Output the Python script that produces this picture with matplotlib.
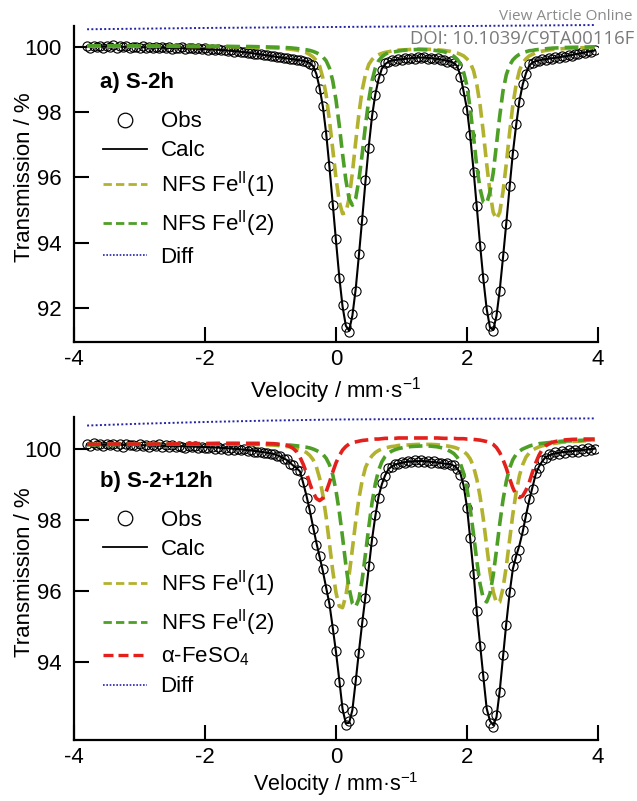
import matplotlib
matplotlib.use("Agg")
import matplotlib.pyplot as plt
from matplotlib.lines import Line2D

plt.rcParams['font.family'] = ['Liberation Sans', 'DejaVu Sans']
plt.rcParams['mathtext.fontset'] = 'custom'
plt.rcParams['mathtext.rm'] = 'Liberation Sans'
plt.rcParams['mathtext.it'] = 'Liberation Sans:italic'
plt.rcParams['mathtext.bf'] = 'Liberation Sans:bold'

# ---- data ----
# velocity channels of the measured points (mm/s), shared by both spectra
obs_velocity = [
    -3.80, -3.75, -3.70, -3.65, -3.60, -3.55, -3.50, -3.45, -3.40, -3.35,
    -3.30, -3.25, -3.20, -3.15, -3.10, -3.05, -3.00, -2.95, -2.90, -2.85,
    -2.80, -2.75, -2.70, -2.65, -2.60, -2.55, -2.50, -2.45, -2.40, -2.35,
    -2.30, -2.25, -2.20, -2.15, -2.10, -2.05, -2.00, -1.95, -1.90, -1.85,
    -1.80, -1.75, -1.70, -1.65, -1.60, -1.55, -1.50, -1.45, -1.40, -1.35,
    -1.30, -1.25, -1.20, -1.15, -1.10, -1.05, -1.00, -0.95, -0.90, -0.85,
    -0.80, -0.75, -0.70, -0.65, -0.60, -0.55, -0.50, -0.45, -0.40, -0.35,
    -0.30, -0.25, -0.20, -0.15, -0.10, -0.05, 0.00, 0.05, 0.10, 0.15,
    0.20, 0.25, 0.30, 0.35, 0.40, 0.45, 0.50, 0.55, 0.60, 0.65,
    0.70, 0.75, 0.80, 0.85, 0.90, 0.95, 1.00, 1.05, 1.10, 1.15,
    1.20, 1.25, 1.30, 1.35, 1.40, 1.45, 1.50, 1.55, 1.60, 1.65,
    1.70, 1.75, 1.80, 1.85, 1.90, 1.95, 2.00, 2.05, 2.10, 2.15,
    2.20, 2.25, 2.30, 2.35, 2.40, 2.45, 2.50, 2.55, 2.60, 2.65,
    2.70, 2.75, 2.80, 2.85, 2.90, 2.95, 3.00, 3.05, 3.10, 3.15,
    3.20, 3.25, 3.30, 3.35, 3.40, 3.45, 3.50, 3.55, 3.60, 3.65,
    3.70, 3.75, 3.80, 3.85, 3.90, 3.95]

obs_a = [
    100.04, 99.99, 100.05, 100.01, 100.03, 99.98, 100.04, 100.02, 100.06, 99.99,
    100.03, 100.00, 100.04, 99.98, 100.02, 100.01, 99.97, 100.03, 99.99, 100.01,
    99.96, 100.02, 99.98, 100.00, 99.97, 100.01, 99.95, 99.99, 99.97, 100.00,
    99.94, 99.98, 99.96, 99.93, 99.97, 99.94, 99.96, 99.92, 99.95, 99.91,
    99.93, 99.90, 99.91, 99.87, 99.90, 99.86, 99.87, 99.84, 99.86, 99.81,
    99.83, 99.80, 99.78, 99.79, 99.75, 99.76, 99.72, 99.73, 99.69, 99.70,
    99.66, 99.67, 99.63, 99.64, 99.60, 99.61, 99.57, 99.55, 99.49, 99.44,
    99.20, 98.72, 98.20, 97.31, 96.35, 95.16, 94.10, 92.92, 92.08, 91.40,
    91.26, 91.80, 92.52, 93.66, 94.70, 95.92, 96.90, 97.92, 98.52, 99.05,
    99.31, 99.50, 99.53, 99.61, 99.58, 99.64, 99.61, 99.66, 99.63, 99.68,
    99.65, 99.70, 99.66, 99.69, 99.65, 99.68, 99.63, 99.66, 99.60, 99.62,
    99.56, 99.58, 99.51, 99.46, 99.09, 98.64, 98.06, 97.29, 96.18, 95.12,
    93.89, 92.91, 91.93, 91.44, 91.28, 91.79, 92.51, 93.59, 94.56, 95.74,
    96.71, 97.64, 98.31, 98.88, 99.17, 99.47, 99.51, 99.59, 99.58, 99.64,
    99.61, 99.67, 99.64, 99.70, 99.67, 99.73, 99.70, 99.76, 99.74, 99.80,
    99.78, 99.84, 99.82, 99.88, 99.86, 99.91]

obs_b = [
    100.14, 100.08, 100.15, 100.10, 100.13, 100.07, 100.12, 100.09, 100.14, 100.08,
    100.12, 100.06, 100.13, 100.09, 100.11, 100.07, 100.12, 100.08, 100.10, 100.05,
    100.11, 100.07, 100.13, 100.06, 100.09, 100.05, 100.10, 100.04, 100.08, 100.06,
    100.03, 100.08, 100.04, 100.07, 100.02, 100.06, 100.03, 100.01, 100.05, 99.99,
    100.04, 100.00, 100.02, 99.97, 100.01, 99.96, 99.99, 99.95, 99.98, 99.93,
    99.95, 99.92, 99.90, 99.92, 99.87, 99.89, 99.84, 99.85, 99.79, 99.79,
    99.72, 99.70, 99.57, 99.54, 99.40, 99.38, 99.06, 98.62, 98.30, 97.74,
    97.30, 96.98, 96.62, 96.05, 95.67, 94.93, 94.32, 93.45, 92.72, 92.24,
    92.34, 92.62, 93.49, 94.26, 95.14, 95.81, 96.69, 97.41, 98.14, 98.61,
    99.03, 99.22, 99.45, 99.48, 99.58, 99.56, 99.63, 99.60, 99.66, 99.62,
    99.68, 99.63, 99.67, 99.62, 99.66, 99.61, 99.64, 99.59, 99.61, 99.56,
    99.59, 99.54, 99.55, 99.44, 99.27, 98.98, 98.32, 97.49, 96.48, 95.44,
    94.45, 93.62, 92.66, 92.30, 92.18, 92.50, 93.16, 94.19, 95.05, 95.97,
    96.70, 96.92, 97.15, 97.70, 98.08, 98.59, 98.88, 99.32, 99.47, 99.68,
    99.73, 99.84, 99.82, 99.90, 99.85, 99.93, 99.88, 99.95, 99.90, 99.97,
    99.92, 99.99, 99.93, 100.01, 99.95, 99.98]

# fitted curves, panel a
fit_velocity_a = [
    -3.8, -3.4, -3.0, -2.6, -2.2, -1.8, -1.5, -1.3, -1.1, -0.9, -0.7, -0.6, -0.5,
    -0.45, -0.4, -0.35, -0.3, -0.25, -0.2, -0.15, -0.1, -0.05, 0.0, 0.05, 0.1, 0.15,
    0.2, 0.25, 0.3, 0.35, 0.4, 0.45, 0.5, 0.55, 0.6, 0.65, 0.7, 0.75, 0.8, 0.85,
    0.95, 1.05, 1.15, 1.25, 1.35, 1.45, 1.55, 1.65,
    1.75, 1.8, 1.85, 1.9, 1.95, 2.0, 2.05, 2.1, 2.15, 2.2, 2.25, 2.3, 2.35, 2.4,
    2.45, 2.5, 2.55, 2.6, 2.65, 2.7, 2.75, 2.8, 2.85, 2.9, 2.95, 3.0, 3.05,
    3.15, 3.3, 3.5, 3.7, 3.95]
calc_a = [
    100.02, 100.02, 100.00, 99.98, 99.96, 99.92, 99.87, 99.82, 99.76, 99.70, 99.64, 99.61, 99.58,
    99.56, 99.51, 99.42, 99.18, 98.75, 98.17, 97.35, 96.32, 95.20, 94.05, 92.95, 92.04, 91.45,
    91.30, 91.76, 92.56, 93.62, 94.73, 95.88, 96.95, 97.88, 98.55, 99.02, 99.34, 99.48, 99.55, 99.59,
    99.62, 99.64, 99.66, 99.68, 99.68, 99.66, 99.64, 99.60,
    99.56, 99.51, 99.42, 99.12, 98.62, 98.10, 97.25, 96.22, 95.08, 93.93, 92.87, 91.97, 91.40, 91.32,
    91.75, 92.55, 93.55, 94.60, 95.70, 96.75, 97.60, 98.35, 98.85, 99.20, 99.43, 99.53, 99.57,
    99.62, 99.66, 99.72, 99.80, 99.90]
nfs1_a = [
    100.03, 100.03, 100.03, 100.03, 100.02, 100.02, 100.01, 100.00, 99.99, 99.97, 99.94, 99.91, 99.86,
    99.83, 99.77, 99.70, 99.59, 99.42, 99.05, 98.53, 97.75, 96.87, 95.98, 95.26, 94.89, 94.92,
    95.36, 96.14, 97.08, 97.96, 98.69, 99.16, 99.47, 99.62, 99.72, 99.77, 99.81, 99.84, 99.86, 99.88,
    99.91, 99.92, 99.93, 99.94, 99.94, 99.93, 99.92, 99.90,
    99.87, 99.84, 99.82, 99.78, 99.73, 99.64, 99.52, 99.28, 98.85, 98.22, 97.37, 96.42, 95.57, 94.93,
    94.72, 94.93, 95.57, 96.42, 97.37, 98.22, 98.85, 99.28, 99.52, 99.64, 99.73, 99.78, 99.83,
    99.88, 99.93, 99.96, 99.98, 99.99]
nfs2_a = [
    100.04, 100.04, 100.04, 100.03, 100.03, 100.03, 100.02, 100.02, 100.01, 100.00, 99.98, 99.96, 99.93,
    99.92, 99.90, 99.87, 99.83, 99.78, 99.70, 99.58, 99.36, 98.97, 98.38, 97.60, 96.72, 95.93,
    95.35, 95.15, 95.35, 95.93, 96.72, 97.60, 98.38, 98.97, 99.36, 99.58, 99.70, 99.78, 99.83, 99.84,
    99.88, 99.91, 99.92, 99.93, 99.92, 99.92, 99.89, 99.86,
    99.78, 99.72, 99.63, 99.49, 99.22, 98.81, 98.08, 97.25, 96.33, 95.65, 95.24, 95.20, 95.55, 96.14,
    97.01, 97.89, 98.66, 99.15, 99.44, 99.61, 99.71, 99.78, 99.83, 99.86, 99.89, 99.90, 99.92,
    99.94, 99.97, 99.99, 100.00, 100.01]
diff_velocity = [-3.8, -2.0, 0.0, 2.0, 3.95]
diff_a = [100.55, 100.59, 100.62, 100.65, 100.68]

# fitted curves, panel b
fit_velocity_b = [
    -3.8, -3.4, -3.0, -2.6, -2.2, -1.8, -1.5, -1.3, -1.1, -0.95, -0.85,
    -0.75, -0.7, -0.65, -0.6, -0.55, -0.5, -0.45, -0.4, -0.35, -0.3, -0.25, -0.2,
    -0.15, -0.1, -0.05, 0.0, 0.05, 0.1, 0.15, 0.2, 0.25, 0.3, 0.35, 0.4, 0.45, 0.5,
    0.55, 0.6, 0.65, 0.7, 0.75, 0.8, 0.85, 0.9, 0.95,
    1.05, 1.15, 1.25, 1.35, 1.45, 1.55, 1.65,
    1.75, 1.8, 1.85, 1.9, 1.95, 2.0, 2.05, 2.1, 2.15, 2.2, 2.25, 2.3, 2.35, 2.4, 2.45,
    2.5, 2.55, 2.6, 2.65, 2.7, 2.75, 2.8, 2.85, 2.9, 2.95, 3.0, 3.05, 3.1, 3.15, 3.2,
    3.3, 3.45, 3.6, 3.8, 3.95]
calc_b = [
    100.12, 100.11, 100.10, 100.08, 100.06, 100.03, 99.99, 99.95, 99.90, 99.85, 99.78,
    99.68, 99.60, 99.52, 99.45, 99.36, 99.03, 98.67, 98.26, 97.80, 97.36, 96.96, 96.55,
    96.09, 95.63, 94.97, 94.28, 93.50, 92.68, 92.28, 92.29, 92.65, 93.45, 94.30, 95.10, 95.85, 96.65,
    97.45, 98.10, 98.65, 99.00, 99.25, 99.42, 99.50, 99.55, 99.58,
    99.62, 99.64, 99.65, 99.65, 99.63, 99.61, 99.58,
    99.56, 99.52, 99.45, 99.30, 98.95, 98.35, 97.45, 96.52, 95.40, 94.49, 93.58, 92.70, 92.35, 92.23, 92.45,
    93.20, 94.15, 95.09, 95.93, 96.62, 96.98, 97.28, 97.66, 98.12, 98.55, 98.92, 99.29, 99.50, 99.65, 99.76,
    99.85, 99.90, 99.93, 99.97, 100.00]
nfs1_b = [
    100.12, 100.12, 100.13, 100.13, 100.13, 100.13, 100.13, 100.12, 100.11, 100.10, 100.08,
    100.06, 100.05, 100.03, 100.01, 99.98, 99.94, 99.89, 99.81, 99.69, 99.49, 99.17, 98.69,
    98.07, 97.33, 96.57, 95.95, 95.57, 95.53, 95.86, 96.44, 97.18, 97.94, 98.60, 99.11, 99.47, 99.67,
    99.80, 99.89, 99.95, 99.99, 100.02, 100.04, 100.06, 100.07, 100.09,
    100.10, 100.11, 100.12, 100.12, 100.12, 100.11, 100.09,
    100.06, 100.04, 100.01, 99.97, 99.92, 99.84, 99.71, 99.49, 99.14, 98.65, 98.01, 97.27, 96.55, 95.98, 95.66,
    95.69, 96.08, 96.69, 97.43, 98.16, 98.77, 99.24, 99.55, 99.76, 99.88, 99.96, 100.01, 100.05, 100.08, 100.10,
    100.14, 100.18, 100.20, 100.22, 100.24]
nfs2_b = [
    100.11, 100.12, 100.13, 100.13, 100.13, 100.14, 100.14, 100.13, 100.13, 100.12, 100.11,
    100.10, 100.10, 100.09, 100.08, 100.07, 100.05, 100.04, 100.02, 99.99, 99.95, 99.90, 99.84,
    99.73, 99.55, 99.27, 98.82, 98.23, 97.51, 96.74, 96.08, 95.65, 95.55, 95.78, 96.32, 97.04, 97.79,
    98.48, 99.01, 99.39, 99.63, 99.78, 99.87, 99.93, 99.97, 100.00,
    100.04, 100.06, 100.07, 100.08, 100.07, 100.05, 100.01,
    99.92, 99.86, 99.76, 99.58, 99.30, 98.87, 98.29, 97.59, 96.84, 96.19, 95.78, 95.69, 95.92, 96.44, 97.14,
    97.89, 98.56, 99.08, 99.45, 99.69, 99.84, 99.93, 99.99, 100.03, 100.07, 100.10, 100.12, 100.14, 100.15, 100.16,
    100.18, 100.21, 100.22, 100.24, 100.25]
feso4_b = [
    100.12, 100.13, 100.13, 100.13, 100.14, 100.15, 100.15, 100.15, 100.15, 100.14, 100.12,
    100.09, 100.06, 100.00, 99.91, 99.76, 99.56, 99.31, 99.02, 98.77, 98.60, 98.54, 98.61,
    98.79, 99.05, 99.34, 99.60, 99.80, 99.96, 100.06, 100.13, 100.17, 100.19, 100.21, 100.23, 100.24, 100.25,
    100.26, 100.27, 100.27, 100.28, 100.29, 100.29, 100.29, 100.29, 100.30,
    100.30, 100.30, 100.30, 100.30, 100.30, 100.30, 100.29,
    100.29, 100.29, 100.28, 100.28, 100.28, 100.27, 100.27, 100.26, 100.25, 100.24, 100.22, 100.20, 100.17, 100.12, 100.03,
    99.89, 99.69, 99.45, 99.16, 98.90, 98.70, 98.63, 98.67, 98.83, 99.05, 99.34, 99.60, 99.82, 99.98, 100.08,
    100.18, 100.24, 100.26, 100.27, 100.27]
diff_velocity_b = [-3.8, -3.0, -2.0, -1.0, 0.0, 2.0, 3.95]
diff_b = [100.65, 100.70, 100.75, 100.79, 100.82, 100.84, 100.85]

x_ticks = [-4, -2, 0, 2, 4]
y_ticks_a = [92, 94, 96, 98, 100]
y_ticks_b = [94, 96, 98, 100]

OLIVE = '#b2b22e'
GREEN = '#4e9f26'
RED = '#e3201b'
BLUE = '#2424a8'
FS = 16
DASH = (3.8, 1.7)


def legend_handles(with_feso4):
    handles = [
        Line2D([], [], ls='none', marker='o', ms=10.5, mfc='none', mec='k', mew=0.9),
        Line2D([], [], color='k', lw=1.3),
        Line2D([], [], color=OLIVE, lw=2.0, dashes=(3, 1.5)),
        Line2D([], [], color=GREEN, lw=2.0, dashes=(3, 1.5)),
    ]
    labels = ['Obs', 'Calc', r'NFS Fe$^{\mathregular{II}}$(1)', r'NFS Fe$^{\mathregular{II}}$(2)']
    if with_feso4:
        handles.append(Line2D([], [], color=RED, lw=2.4, dashes=(3, 1.5)))
        labels.append(r'$\mathregular{\alpha}$-FeSO$_{\mathregular{4}}$')
    handles.append(Line2D([], [], color=BLUE, lw=1.2, ls=(0, (1, 1))))
    labels.append('Diff')
    return handles, labels


def draw_panel(ax, fit_v, calc, comps, obs, diff_v, diff, ylim, yticks, tag, tag_y, leg_y,
               xlab_y, xlab_fs):
    ax.plot(obs_velocity, obs, ls='none', marker='o', ms=6.6, mfc='none', mec='k', mew=0.8, zorder=2)
    ax.plot(fit_v, calc, color='k', lw=1.5, zorder=3)
    for vals, col in comps:
        ax.plot(fit_v, vals, color=col, lw=2.6, dashes=DASH, zorder=4)
    ax.plot(diff_v, diff, color=BLUE, lw=1.4, ls=(0, (1, 1.2)), clip_on=False, zorder=4)

    ax.set_xlim(-4, 4)
    ax.set_ylim(*ylim)
    ax.set_xticks(x_ticks)
    ax.set_yticks(yticks)
    ax.set_xticklabels([str(t) for t in x_ticks])
    ax.tick_params(direction='in', length=11, width=1.5, labelsize=FS)
    ax.tick_params(axis='x', pad=5)
    ax.tick_params(axis='y', pad=9)
    for s in ['top', 'right']:
        ax.spines[s].set_visible(False)
    for s in ['left', 'bottom']:
        ax.spines[s].set_linewidth(1.6)

    ax.set_xlabel('Velocity / mm\u00b7s$^{\\mathregular{-1}}$', fontsize=xlab_fs)
    ax.set_ylabel('Transmission / %', fontsize=FS)
    ax.xaxis.set_label_coords(0.5, xlab_y)
    ax.yaxis.set_label_coords(-0.075, 0.52)

    ax.text(0.05, tag_y, tag, transform=ax.transAxes, fontsize=FS, fontweight='bold', va='center')
    h, l = legend_handles(len(comps) == 3)
    ax.legend(h, l, loc='upper left', bbox_to_anchor=(0.055, leg_y), frameon=False, fontsize=FS,
              handlelength=2.0, handletextpad=0.6, labelspacing=0.36, borderpad=0, borderaxespad=0,
              numpoints=1)


fig = plt.figure(figsize=(6.37, 8.01), dpi=100)
ax_a = fig.add_axes([74 / 637, 1 - 342 / 801, 524 / 637, 316 / 801])
ax_b = fig.add_axes([74 / 637, 1 - 740 / 801, 524 / 637, 323 / 801])

draw_panel(ax_a, fit_velocity_a, calc_a, [(nfs1_a, OLIVE), (nfs2_a, GREEN)], obs_a,
           diff_velocity, diff_a, (90.95, 100.65), y_ticks_a, 'a) S-2h', 0.82, 0.73, -0.105, FS)
draw_panel(ax_b, fit_velocity_b, calc_b, [(nfs1_b, OLIVE), (nfs2_b, GREEN), (feso4_b, RED)], obs_b,
           diff_velocity_b, diff_b, (91.81, 100.89), y_ticks_b, 'b) S-2+12h', 0.80, 0.712, -0.094, 15.5)

fig.text(0.993, 0.979, 'View Article Online', ha='right', va='center', fontsize=11,
         color='#8a8a8a', family='Open Sans')
fig.text(0.996, 0.951, 'DOI: 10.1039/C9TA00116F', ha='right', va='center', fontsize=13.3,
         color='#7a7a7a', family='Open Sans')

fig.savefig('out.png', dpi=100)
